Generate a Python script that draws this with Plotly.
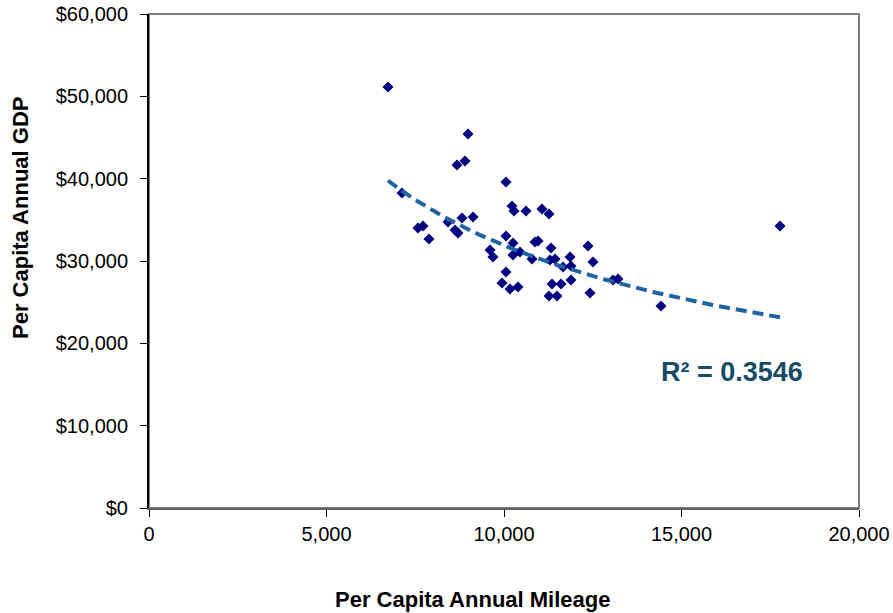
import numpy as np
import plotly.graph_objects as go

# Per capita annual mileage (x) and per capita annual GDP (y)
mileage = [6732, 8986, 8676, 8901, 7127, 10056, 7577, 7718, 7887, 8423,
           8620, 8704, 8817, 9127, 10225, 10282, 10620, 11070, 11268, 10056,
           10254, 10873, 10958, 9606, 9690, 10254, 10451, 10789, 11324, 11296,
           11437, 11860, 11662, 11887, 12366, 12507, 10056, 9944, 10169, 10394,
           11352, 11606, 11887, 11268, 11493, 12423, 13070, 13211, 14423, 17775]
gdp = [51136, 45427, 41660, 42150, 38260, 39600, 34010, 34250, 32670, 34740,
       33770, 33400, 35220, 35350, 36680, 36070, 36070, 36320, 35710, 33040,
       32190, 32310, 32430, 31340, 30490, 30730, 31090, 30240, 31580, 30120,
       30240, 30490, 29270, 29390, 31820, 29880, 28660, 27330, 26600, 26840,
       27210, 27210, 27700, 25750, 25750, 26110, 27700, 27810, 24530, 34250]

x_ticks = [0, 5000, 10000, 15000, 20000]
x_tick_labels = ["0", "5,000", "10,000", "15,000", "20,000"]
y_ticks = [0, 10000, 20000, 30000, 40000, 50000, 60000]
y_tick_labels = ["$0", "$10,000", "$20,000", "$30,000", "$40,000", "$50,000", "$60,000"]
r2_label = "R² = 0.3546"
x_title = "Per Capita Annual Mileage"
y_title = "Per Capita Annual GDP"

# Power trendline y = a * x^b
trend_x_ends = [6704, 17718]
trend_y_ends = [39840, 23200]

b = np.log(trend_y_ends[1] / trend_y_ends[0]) / np.log(trend_x_ends[1] / trend_x_ends[0])
a = trend_y_ends[0] / trend_x_ends[0] ** b
xt = np.linspace(min(mileage), max(mileage), 100)
yt = a * xt ** b

fig = go.Figure()
fig.add_trace(go.Scatter(
    x=mileage, y=gdp, mode="markers",
    marker=dict(symbol="diamond", size=8.5, color="#000080"),
    showlegend=False, hoverinfo="x+y"))
fig.add_trace(go.Scatter(
    x=xt, y=yt, mode="lines",
    line=dict(color="#1F64A0", width=4, dash="11px,6px"),
    showlegend=False, hoverinfo="skip"))

tick_font = dict(family="Liberation Sans, Arial, sans-serif", size=20, color="#000000")
title_font = dict(family="Liberation Sans, Arial, sans-serif", size=22, color="#000000")

fig.update_layout(
    width=893, height=613,
    margin=dict(l=149, r=34, t=14, b=105, autoexpand=False),
    paper_bgcolor="white", plot_bgcolor="white",
    xaxis=dict(range=[0, 20000], tickvals=x_ticks, ticktext=x_tick_labels,
               showgrid=False, zeroline=False, showline=True, automargin=False,
               linecolor="#606060", linewidth=2, mirror=False,
               ticks="outside", ticklen=7, tickcolor="#000000", tickwidth=1,
               tickfont=tick_font, ticklabelstandoff=0),
    yaxis=dict(range=[0, 60000], tickvals=y_ticks, ticktext=y_tick_labels,
               showgrid=False, zeroline=False, showline=True, automargin=False,
               linecolor="#000000", linewidth=2,
               ticks="outside", ticklen=7, tickcolor="#000000", tickwidth=1,
               tickfont=tick_font, ticklabelstandoff=8),
    shapes=[dict(type="rect", xref="paper", yref="paper", x0=0, y0=0, x1=1, y1=1,
                 line=dict(color="#808080", width=2), layer="below")],
    annotations=[
        dict(text="<b>" + x_title + "</b>", xref="paper", yref="paper",
             x=(472 - 149) / 710, y=-(599 - 508) / 494, xanchor="center", yanchor="middle",
             showarrow=False, font=title_font),
        dict(text="<b>" + y_title + "</b>", xref="paper", yref="paper",
             x=(20 - 149) / 710, y=(508 - 218) / 494, xanchor="center", yanchor="middle",
             textangle=-90, showarrow=False, font=title_font),
        dict(text="<b>" + r2_label + "</b>", xref="paper", yref="paper",
             x=(732 - 149) / 710, y=(508 - 372) / 494, xanchor="center", yanchor="middle",
             showarrow=False,
             font=dict(family="Liberation Sans, Arial, sans-serif", size=27, color="#164B66")),
    ],
)

fig.write_html("out.html")
